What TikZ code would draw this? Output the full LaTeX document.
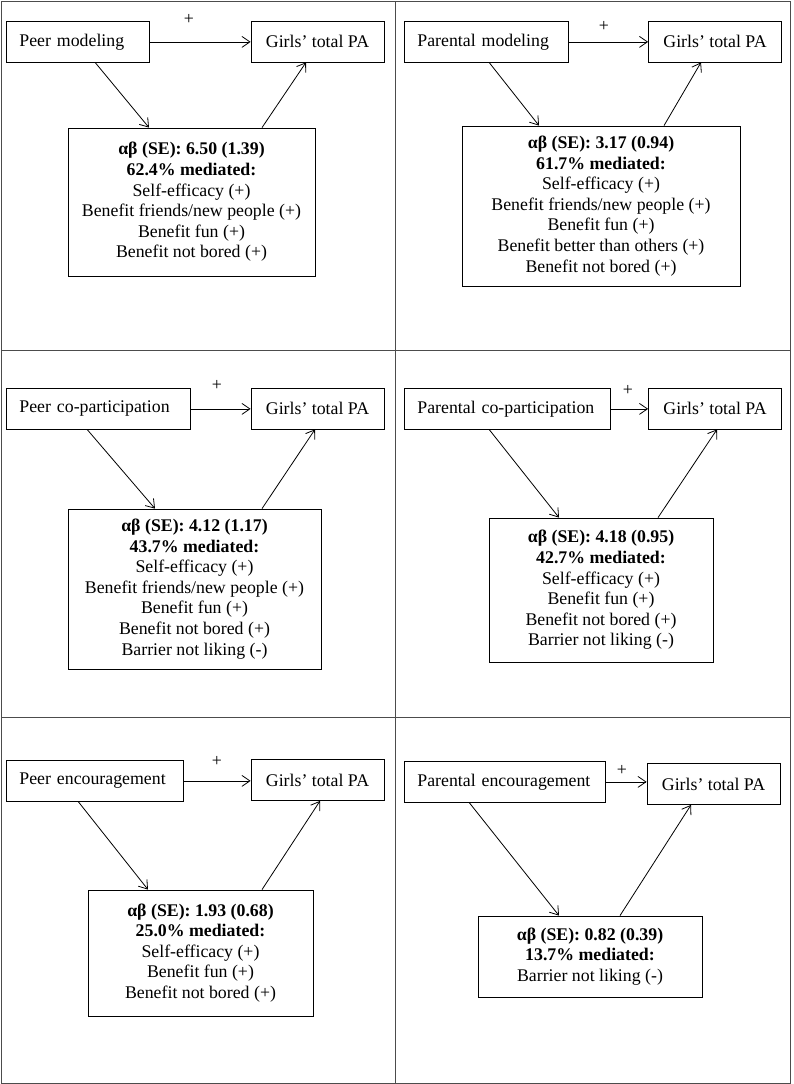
\documentclass[tikz,border=0pt]{standalone}
\usepackage{fontspec}
\setmainfont{Liberation Serif}
\usetikzlibrary{arrows.meta}

\newcommand{\boxfont}{\fontsize{17.8}{20.6}\selectfont}
\tikzset{
  src/.style={draw, anchor=north west, minimum height=41pt, inner xsep=13pt, text width=#1, align=left, font=\boxfont},
  pa/.style={draw, minimum width=133pt, minimum height=41pt, font=\boxfont},
  med/.style 2 args={draw, minimum width=#1, minimum height=#2, align=center, font=\boxfont},
  arr/.style={-{Straight Barb[length=8pt,width=11pt]}, line width=0.8pt},
  plus/.style={inner sep=0pt, font=\boxfont},
  cellline/.style={draw=black!70, line width=0.9pt}
}

\begin{document}
\begin{tikzpicture}[x=1pt, y=-1pt, line width=0.8pt]
\useasboundingbox (0,0) rectangle (793,1084);
% table cells
\draw[cellline] (1,1) rectangle (790,1083);
\draw[cellline] (395,1) -- (395,1083);
\draw[cellline] (1,350) -- (790,350);
\draw[cellline] (1,717) -- (790,717);

% modeling
\node[src=117pt] (peermod) at (6,21) {Peer modeling};
\node[pa] (ga1) at (317.5,41.5) {Girls’ total PA};
\node[plus] (p1) at (189,19) {+};
\node[med={247pt}{148pt}] (med1) at (191.5,202) {\textbf{αβ (SE): 6.50 (1.39)}\\ \textbf{62.4\% mediated:}\\ Self-efficacy (+)\\ Benefit friends/new people (+)\\ Benefit fun (+)\\ Benefit not bored (+)};
\draw[arr] (peermod.east) -- (peermod.east -| ga1.west);
\draw[arr] ([xshift=17.5pt]peermod.south) -- ([xshift=-42.5pt]med1.north);
\draw[arr] ([xshift=70.5pt]med1.north) -- ([xshift=-11.5pt]ga1.south);

\node[src=138pt] (parmod) at (404,21) {Parental modeling};
\node[pa] (ga2) at (715,41.5) {Girls’ total PA};
\node[plus] (p2) at (604,26) {+};
\node[med={278pt}{160pt}] (med2) at (601,206) {\textbf{αβ (SE): 3.17 (0.94)}\\ \textbf{61.7\% mediated:}\\ Self-efficacy (+)\\ Benefit friends/new people (+)\\ Benefit fun (+)\\ Benefit better than others (+)\\ Benefit not bored (+)};
\draw[arr] (parmod.east) -- (parmod.east -| ga2.west);
\draw[arr] ([xshift=3pt]parmod.south) -- ([xshift=-62pt]med2.north);
\draw[arr] ([xshift=63pt]med2.north) -- ([xshift=-14pt]ga2.south);

% co-participation
\node[src=158pt] (peercp) at (6,388) {Peer co-participation};
\node[pa] (ga3) at (317.5,408.5) {Girls’ total PA};
\node[plus] (p3) at (217,385) {+};
\node[med={253pt}{160pt}] (med3) at (194.5,589) {\textbf{αβ (SE): 4.12 (1.17)}\\ \textbf{43.7\% mediated:}\\ Self-efficacy (+)\\ Benefit friends/new people (+)\\ Benefit fun (+)\\ Benefit not bored (+)\\ Barrier not liking (-)};
\draw[arr] (peercp.east) -- (peercp.east -| ga3.west);
\draw[arr] ([xshift=-11pt]peercp.south) -- ([xshift=-39.5pt]med3.north);
\draw[arr] ([xshift=67.5pt]med3.north) -- ([xshift=-2.5pt]ga3.south);

\node[src=180pt] (parcp) at (404,388) {Parental co-participation};
\node[pa] (ga4) at (715,408.5) {Girls’ total PA};
\node[plus] (p4) at (628,390) {+};
\node[med={224pt}{144pt}] (med4) at (601,590) {\textbf{αβ (SE): 4.18 (0.95)}\\ \textbf{42.7\% mediated:}\\ Self-efficacy (+)\\ Benefit fun (+)\\ Benefit not bored (+)\\ Barrier not liking (-)};
\draw[arr] (parcp.east) -- (parcp.east -| ga4.west);
\draw[arr] ([xshift=-18pt]parcp.south) -- ([xshift=-42pt]med4.north);
\draw[arr] ([xshift=57pt]med4.north) -- ([xshift=2pt]ga4.south);

% encouragement
\node[src=151pt] (peerenc) at (6,760) {Peer encouragement};
\node[pa] (ga5) at (317.5,780) {Girls’ total PA};
\node[plus] (p5) at (217,761) {+};
\node[med={225pt}{126pt}] (med5) at (200.5,953) {\textbf{αβ (SE): 1.93 (0.68)}\\ \textbf{25.0\% mediated:}\\ Self-efficacy (+)\\ Benefit fun (+)\\ Benefit not bored (+)};
\draw[arr] (peerenc.east) -- (peerenc.east -| ga5.west);
\draw[arr] ([xshift=-16.5pt]peerenc.south) -- ([xshift=-52.5pt]med5.north);
\draw[arr] ([xshift=61.5pt]med5.north) -- ([xshift=2.5pt]ga5.south);

\node[src=175pt] (parenc) at (404,761) {Parental encouragement};
\node[pa] (ga6) at (713.5,784) {Girls’ total PA};
\node[plus] (p6) at (622,770) {+};
\node[med={224pt}{81pt}] (med6) at (590,956.5) {\textbf{αβ (SE): 0.82 (0.39)}\\ \textbf{13.7\% mediated:}\\ Barrier not liking (-)};
\draw[arr] (parenc.east) -- (parenc.east -| ga6.west);
\draw[arr] ([xshift=-35.5pt]parenc.south) -- ([xshift=-31pt]med6.north);
\draw[arr] ([xshift=30pt]med6.north) -- ([xshift=-22.5pt]ga6.south);
\end{tikzpicture}
\end{document}
